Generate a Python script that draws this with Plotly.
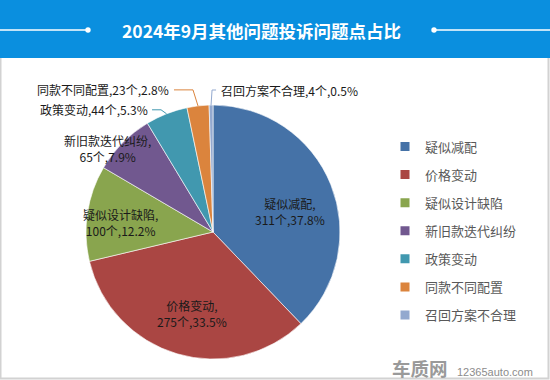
import math
import plotly.graph_objects as go

# ---------------- data ----------------
categories = ["疑似减配", "价格变动", "疑似设计缺陷", "新旧款迭代纠纷", "政策变动", "同款不同配置", "召回方案不合理"]
counts = [311, 275, 100, 65, 44, 23, 4]
pct_labels = ["37.8%", "33.5%", "12.2%", "7.9%", "5.3%", "2.8%", "0.5%"]
colors = ["#4572a7", "#aa4643", "#89a54e", "#71588f", "#4198af", "#db843d", "#93a9cf"]
title_text = "2024年9月其他问题投诉问题点占比"
logo_cn = "车质网"
logo_en = "12365auto.com"

# ---------------- layout helpers ----------------
W, H = 550, 380
FONT = "Noto Sans CJK SC, Microsoft YaHei, sans-serif"
cx, cy, R = 213, 232, 127  # pie centre / radius in px


def px(x):
    return x / W


def py(y):
    return 1 - y / H


fig = go.Figure()
fig.add_trace(go.Pie(
    labels=categories, values=counts, customdata=pct_labels,
    sort=False, direction="clockwise", rotation=0,
    marker=dict(colors=colors, line=dict(color="rgba(255,255,255,0.6)", width=1)),
    textinfo="none",
    domain=dict(x=[px(cx - R), px(cx + R)], y=[py(cy + R), py(cy - R)]),
    showlegend=False, hovertemplate="%{label}: %{value}个 (%{customdata})<extra></extra>",
))

# legend entries (one group per category to get the spacing)
for c, col in zip(categories, colors):
    fig.add_trace(go.Scatter(x=[None], y=[None], mode="markers", name=c, legendgroup=c,
                             marker=dict(symbol="square", size=9, color=col), hoverinfo="skip"))

# ---------- data labels (positions derived from slice angles) ----------
total = sum(counts)
mids = []
cum = 0
for v in counts:
    mids.append((cum + v / 2) / total * 2 * math.pi)
    cum += v


def polar(i, rf):
    a = mids[i]
    return cx + rf * R * math.sin(a), cy - rf * R * math.cos(a)


# inside labels: (radius fraction, dx, dy)
inside_style = {0: (0.6, 6, 8), 1: (0.6, 0.5, 8), 2: (0.72, -2.5, 4.5)}
# outside labels: (elbow dx, elbow dy, end dx, text dx, anchor) ; None = two-line label without line
outside_style = {
    3: None,
    4: (-5.5, -4, -14.5, -17, "right"),
    5: (-5, -16, -24, -27, "right"),
    6: (1, -15, 5, 8, "left"),
}

annotations = []
shapes = []

# border + header
shapes.append(dict(type="rect", xref="paper", yref="paper", x0=px(0.5), x1=px(548.5), y0=py(378.5), y1=py(40),
                   line=dict(color="#d2d2d2", width=2), fillcolor="rgba(0,0,0,0)"))
shapes.append(dict(type="rect", xref="paper", yref="paper", x0=0, x1=1, y0=py(58), y1=1,
                   line=dict(width=0), fillcolor="#0a8fdf"))
shapes.append(dict(type="line", xref="paper", yref="paper", x0=0, x1=px(88), y0=py(30), y1=py(30),
                   line=dict(color="white", width=1.5)))
shapes.append(dict(type="line", xref="paper", yref="paper", x0=px(434), x1=1, y0=py(30), y1=py(30),
                   line=dict(color="white", width=1.5)))
for xd in (88, 434):
    shapes.append(dict(type="circle", xref="paper", yref="paper", x0=px(xd - 2.7), x1=px(xd + 2.7),
                       y0=py(30 + 2.7), y1=py(30 - 2.7), line=dict(width=0), fillcolor="white"))

lab_font = dict(family=FONT, size=12, color="#1a1a1a")

for i, (rf, dx, dy) in inside_style.items():
    lx, ly = polar(i, rf)
    annotations.append(dict(xref="paper", yref="paper", x=px(lx + dx), y=py(ly + dy),
                            text=f"{categories[i]},<br>{counts[i]}个,{pct_labels[i]}",
                            showarrow=False, xanchor="center", yanchor="middle", align="center",
                            font=lab_font))

for i, st in outside_style.items():
    ex, ey = polar(i, 1.0)
    if st is None:
        annotations.append(dict(xref="paper", yref="paper", x=px(ex - 15), y=py(ey + 6),
                                text=f"{categories[i]},<br>{counts[i]}个,{pct_labels[i]}",
                                showarrow=False, xanchor="center", yanchor="middle", align="center",
                                font=lab_font))
        continue
    edx, edy, endx, tdx, anc = st
    path = f"M {px(ex)} {py(ey)} L {px(ex + edx)} {py(ey + edy)} L {px(ex + endx)} {py(ey + edy)}"
    shapes.append(dict(type="path", xref="paper", yref="paper", path=path,
                       line=dict(color=colors[i], width=1)))
    annotations.append(dict(xref="paper", yref="paper", x=px(ex + tdx), y=py(ey + edy),
                            text=f"{categories[i]},{counts[i]}个,{pct_labels[i]}",
                            showarrow=False, xanchor=anc, yanchor="middle", font=lab_font))

annotations.append(dict(xref="paper", yref="paper", x=px(261), y=py(30), text=f"<b>{title_text}</b>",
                        showarrow=False, xanchor="center", yanchor="middle",
                        font=dict(family=FONT, size=17.5, color="white")))
annotations.append(dict(xref="paper", yref="paper", x=px(391), y=py(367.5), text=f"<b>{logo_cn}</b>",
                        showarrow=False, xanchor="left", yanchor="middle", borderpad=0,
                        font=dict(family=FONT, size=18.5, color="#9a9a9a")))
annotations.append(dict(xref="paper", yref="paper", x=px(455), y=py(372), text=logo_en,
                        showarrow=False, xanchor="left", yanchor="middle",
                        font=dict(family="Liberation Sans, Arial, sans-serif", size=11, color="#8c8c8c")))

fig.update_layout(
    width=W, height=H,
    margin=dict(l=0, r=0, t=0, b=0),
    paper_bgcolor="white", plot_bgcolor="white",
    xaxis=dict(visible=False), yaxis=dict(visible=False),
    showlegend=True,
    legend=dict(x=px(385), y=py(131.5), xanchor="left", yanchor="top",
                tracegroupgap=8.2, bgcolor="rgba(0,0,0,0)",
                font=dict(family=FONT, size=13, color="#595959")),
    shapes=shapes, annotations=annotations,
)

fig.write_html("out.html", config={"displayModeBar": False},
               post_script="document.body.style.margin='0';document.body.style.overflow='hidden';")
